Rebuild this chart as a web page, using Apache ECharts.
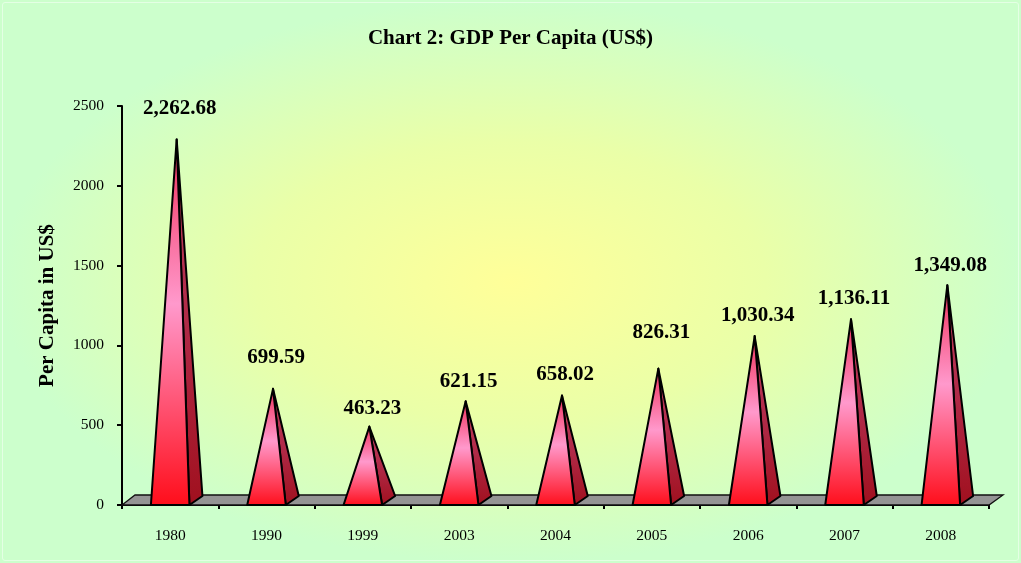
<!DOCTYPE html>
<html>
<head>
<meta charset="utf-8">
<script src="https://cdn.jsdelivr.net/npm/echarts@6/dist/echarts.min.js"></script>
<style>
  html, body { margin: 0; padding: 0; }
  #wrap { width: 1021px; height: 563px; position: relative;
    background: radial-gradient(ellipse closest-side at 50% 50%, #ffff99 0%, #eaffa8 50%, #ccffcc 100%); }
  #frame { position: absolute; left: 2px; top: 2px; right: 2px; bottom: 2px; border: 1px solid #e4ffe4; border-radius: 3px; pointer-events: none; }
  #chart { width: 1021px; height: 563px; position: absolute; left: 0; top: 0; }
</style>
</head>
<body>
<div id="wrap"><div id="chart"></div><div id="frame"></div></div>
<script>
// ---- data ----
const categories = ['1980', '1990', '1999', '2003', '2004', '2005', '2006', '2007', '2008'];
const gdpPerCapita = [2262.68, 699.59, 463.23, 621.15, 658.02, 826.31, 1030.34, 1136.11, 1349.08];
const yTicks = [0, 500, 1000, 1500, 2000, 2500];
const titleText = 'Chart 2: GDP Per Capita (US$)';
const yAxisTitle = 'Per Capita in US$';
// label lift above apex (layout only)
const labelLift = [31, 31, 18, 20, 21, 36, 20, 21, 20];

const SERIF = '"Liberation Serif", "Times New Roman", serif';
const DX = 13, DY = 9;

function fmt(v) {
  return v.toLocaleString('en-US', { minimumFractionDigits: 2, maximumFractionDigits: 2 });
}

const frontGrad = new echarts.graphic.LinearGradient(0, 0, 0, 1, [
  { offset: 0, color: '#f0305a' },
  { offset: 0.45, color: '#ff99cc' },
  { offset: 1, color: '#ff0d1a' }
]);
const sideGrad = new echarts.graphic.LinearGradient(0, 0, 0, 1, [
  { offset: 0, color: '#c0405e' },
  { offset: 0.5, color: '#b02a48' },
  { offset: 1, color: '#a0101e' }
]);

function renderPyramid(params, api) {
  const i = api.value(0), v = api.value(1);
  const base = api.coord([i, 0]);
  const top = api.coord([i, v]);
  const bw = api.size([1, 0])[0] * 0.4;
  const fl = [base[0] - bw / 2, base[1]];
  const fr = [base[0] + bw / 2, base[1]];
  const br = [fr[0] + DX, fr[1] - DY];
  const apex = [base[0] + DX / 2, top[1] - DY / 2];
  return {
    type: 'group',
    children: [
      { type: 'polygon', shape: { points: [fr, br, apex] },
        style: { fill: sideGrad, stroke: '#000', lineWidth: 2, lineJoin: 'round' } },
      { type: 'polygon', shape: { points: [fl, fr, apex] },
        style: { fill: frontGrad, stroke: '#000', lineWidth: 2, lineJoin: 'round' } },
      { type: 'text', x: apex[0] + 3, y: apex[1] - labelLift[params.dataIndex],
        style: { text: fmt(v), align: 'center', verticalAlign: 'middle',
          font: 'bold 21px ' + SERIF, fill: '#000' } }
    ]
  };
}

function renderFloor(params, api) {
  const cs = params.coordSys;
  const y0 = cs.y + cs.height;
  const x0 = cs.x, x1 = cs.x + cs.width;
  return {
    type: 'polygon',
    shape: { points: [[x0, y0], [x1, y0], [x1 + DX + 1, y0 - DY - 1], [x0 + DX, y0 - DY - 1]] },
    style: { fill: '#949494', stroke: '#111', lineWidth: 1.3 }
  };
}

const chart = echarts.init(document.getElementById('chart'), null, { renderer: 'canvas' });
chart.setOption({
  backgroundColor: 'transparent',
  animation: false,
  title: {
    text: titleText, left: 'center', top: 23,
    textStyle: { fontFamily: SERIF, fontWeight: 'bold', fontSize: 21, color: '#000' }
  },
  grid: { left: 122, right: 32, top: 106, bottom: 58 },
  xAxis: {
    type: 'category', data: categories, boundaryGap: true,
    axisLine: { show: true, lineStyle: { color: '#000', width: 2 } },
    axisTick: { show: true, length: 4, inside: false, lineStyle: { color: '#000', width: 2 } },
    axisLabel: { fontFamily: SERIF, fontSize: 15.5, color: '#000', margin: 23 },
    splitLine: { show: false }
  },
  yAxis: {
    type: 'value', min: 0, max: 2500, interval: 500,
    name: yAxisTitle, nameLocation: 'middle', nameGap: 64, nameRotate: 90,
    nameTextStyle: { fontFamily: SERIF, fontWeight: 'bold', fontSize: 21, color: '#000' },
    axisLine: { show: true, lineStyle: { color: '#000', width: 2 } },
    axisTick: { show: true, length: 5, lineStyle: { color: '#000', width: 2 } },
    axisLabel: { fontFamily: SERIF, fontSize: 15.5, color: '#000', margin: 18,
      formatter: v => yTicks.includes(v) ? String(v) : '' },
    splitLine: { show: false }
  },
  series: [
    { type: 'custom', renderItem: renderFloor, data: [[0, 0]], z: 1, silent: true, clip: false },
    { type: 'custom', renderItem: renderPyramid, z: 3, clip: false,
      data: gdpPerCapita.map((v, i) => [i, v]) }
  ]
});
</script>
</body>
</html>
